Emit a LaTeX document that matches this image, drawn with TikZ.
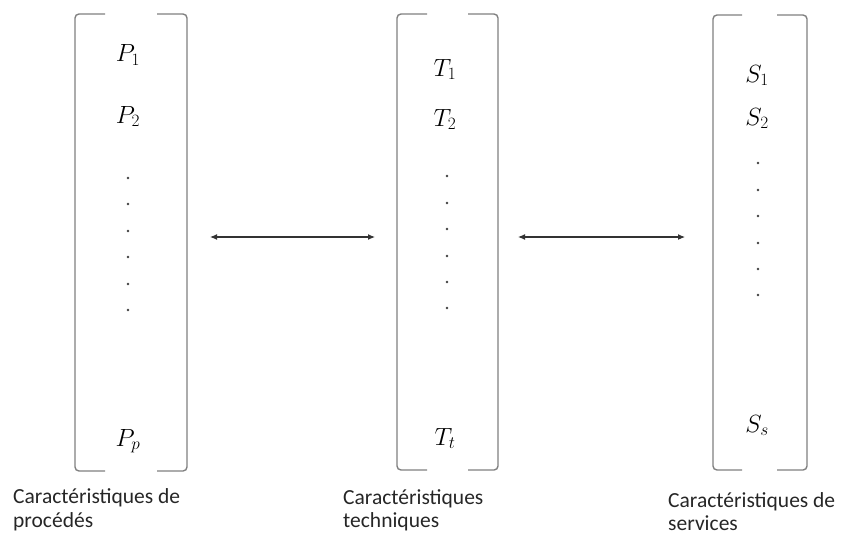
\documentclass[tikz,border=0pt]{standalone}
\usepackage{fontspec}
\setmainfont{Carlito}
\usetikzlibrary{arrows.meta}
\begin{document}
\begin{tikzpicture}[x=1pt,y=-1pt,
  brk/.style={draw=black!50, line width=1.4pt, rounded corners=4pt},
  lbl/.style={anchor=base west, inner sep=0pt, font=\fontsize{21.5}{26}\selectfont, text=black!85},
  var/.style={anchor=base, inner sep=0pt, font=\fontsize{23}{27}\selectfont, text=black},
  dotm/.style={circle, fill=black!75, inner sep=0pt, minimum size=2.6pt},
  conn/.style={{Latex[length=7pt,width=6pt]}-{Latex[length=7pt,width=6pt]}, line width=1.1pt, draw=black!80}]
\useasboundingbox (0,0) rectangle (842,535);
% brackets
\draw[brk] (105,14) -- (75,14) -- (75,471) -- (105,471);
\draw[brk] (157,14) -- (187,14) -- (187,471) -- (157,471);
\draw[brk] (427,14) -- (397,14) -- (397,470) -- (427,470);
\draw[brk] (468,14) -- (498,14) -- (498,470) -- (468,470);
\draw[brk] (742,15) -- (713,15) -- (713,470) -- (742,470);
\draw[brk] (777,15) -- (807,15) -- (807,470) -- (777,470);
% variables
\node[var] (p1) at (128,62) {$P_1$};
\node[var] (p2) at (128,123) {$P_2$};
\node[var] (pp) at (128,446) {$P_p$};
\node[var] (t1) at (445,76) {$T_1$};
\node[var] (t2) at (445,126) {$T_2$};
\node[var] (tt) at (445,445) {$T_t$};
\node[var] (s1) at (757,82) {$S_1$};
\node[var] (s2) at (757,125) {$S_2$};
\node[var] (ss) at (757,432) {$S_s$};
% dots
\foreach \y [count=\i] in {178,204,231,257,284,310} \node[dotm] (pd\i) at (128,\y) {};
\foreach \y [count=\i] in {176,203,229,256,282,308} \node[dotm] (td\i) at (447,\y) {};
\foreach \y [count=\i] in {163,190,216,243,269,295} \node[dotm] (sd\i) at (758,\y) {};
% arrows
\coordinate (a1) at (210,237);
\coordinate (a2) at (375,237);
\coordinate (b1) at (518,237);
\coordinate (b2) at (685,237);
\draw[conn] (a1) -- (a2);
\draw[conn] (b1) -- (b2);
% labels
\node[lbl] (l1a) at (13,503) {Caractéristiques de};
\node[lbl] (l1b) at (13,527) {procédés};
\node[lbl] (l2a) at (343,504) {Caractéristiques};
\node[lbl] (l2b) at (343,527) {techniques};
\node[lbl] (l3a) at (668,507) {Caractéristiques de};
\node[lbl] (l3b) at (668,530) {services};
\end{tikzpicture}
\end{document}
